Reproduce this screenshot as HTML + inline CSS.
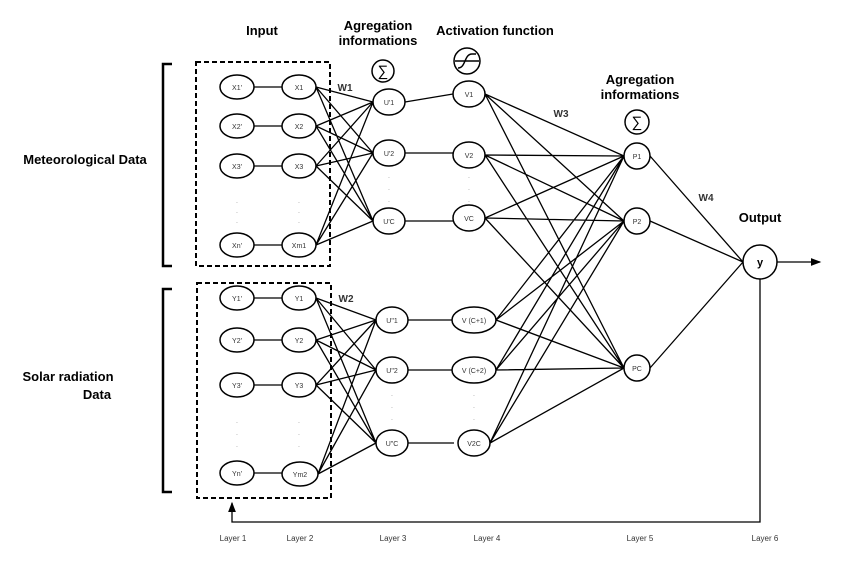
<!DOCTYPE html>
<html><head><meta charset="utf-8"><style>
body{margin:0;background:#fff}
svg{display:block}
text{font-family:"Liberation Sans",sans-serif}
.t{font-weight:bold;font-size:13px}
.n{font-size:7px;fill:#333}
.l{font-size:8px;fill:#333}
</style></head><body>
<svg width="850" height="565" viewBox="0 0 850 565" xmlns="http://www.w3.org/2000/svg">
<defs><marker id="a" markerWidth="8" markerHeight="8" refX="7" refY="4" orient="auto"><path d="M0,1 L8,4 L0,7z" fill="#000"/></marker></defs>
<g stroke="#000" stroke-width="1.3" fill="none">
<path d="M254,87H282M254,126H282M254,166H282M254,245H282"/>
<path d="M254,298H282M254,340H282M254,385H282M254,473H282"/>
<path d="M316,87L373,102M316,87L373,153M316,87L373,221
M316,126L373,102M316,126L373,153M316,126L373,221
M316,166L373,102M316,166L373,153M316,166L373,221
M316,245L373,102M316,245L373,153M316,245L373,221"/>
<path d="M316,298L376,320M316,298L376,370M316,298L376,443
M316,340L376,320M316,340L376,370M316,340L376,443
M316,385L376,320M316,385L376,370M316,385L376,443
M318,474L376,320M318,474L376,370M318,474L376,443"/>
<path d="M405,102L453,94M405,153H453M405,221H453"/>
<path d="M408,320H452M408,370H452M408,443H454"/>
<path d="M485,94L624,156M485,94L624,221M485,94L624,368
M485,155L624,156M485,155L624,221M485,155L624,368
M485,218L624,156M485,218L624,221M485,218L624,368
M496,320L624,156M496,320L624,221M496,320L624,368
M496,370L624,156M496,370L624,221M496,370L624,368
M490,443L624,156M490,443L624,221M490,443L624,368"/>
<path d="M650,156L743,262M650,221L743,262M650,368L743,262"/>
<path d="M777,262H820" marker-end="url(#a)"/>
<path d="M760,279V522H232V503" marker-end="url(#a)"/>
<rect x="196" y="62" width="134" height="204" stroke-dasharray="5,3" stroke-width="2"/>
<rect x="197" y="283" width="134" height="215" stroke-dasharray="5,3" stroke-width="2"/>
<path d="M172,64H163V266H172M172,289H163V492H172" stroke-width="2.5"/>
</g>
<g stroke="#000" stroke-width="1.5" fill="#fff">
<ellipse cx="237" cy="87" rx="17" ry="12"/><ellipse cx="237" cy="126" rx="17" ry="12"/><ellipse cx="237" cy="166" rx="17" ry="12"/><ellipse cx="237" cy="245" rx="17" ry="12"/>
<ellipse cx="299" cy="87" rx="17" ry="12"/><ellipse cx="299" cy="126" rx="17" ry="12"/><ellipse cx="299" cy="166" rx="17" ry="12"/><ellipse cx="299" cy="245" rx="17" ry="12"/>
<ellipse cx="237" cy="298" rx="17" ry="12"/><ellipse cx="237" cy="340" rx="17" ry="12"/><ellipse cx="237" cy="385" rx="17" ry="12"/><ellipse cx="237" cy="473" rx="17" ry="12"/>
<ellipse cx="299" cy="298" rx="17" ry="12"/><ellipse cx="299" cy="340" rx="17" ry="12"/><ellipse cx="299" cy="385" rx="17" ry="12"/><ellipse cx="300" cy="474" rx="18" ry="12"/>
<ellipse cx="389" cy="102" rx="16" ry="13"/><ellipse cx="389" cy="153" rx="16" ry="13"/><ellipse cx="389" cy="221" rx="16" ry="13"/>
<ellipse cx="392" cy="320" rx="16" ry="13"/><ellipse cx="392" cy="370" rx="16" ry="13"/><ellipse cx="392" cy="443" rx="16" ry="13"/>
<ellipse cx="469" cy="94" rx="16" ry="13"/><ellipse cx="469" cy="155" rx="16" ry="13"/><ellipse cx="469" cy="218" rx="16" ry="13"/>
<ellipse cx="474" cy="320" rx="22" ry="13"/><ellipse cx="474" cy="370" rx="22" ry="13"/><ellipse cx="474" cy="443" rx="16" ry="13"/>
<circle cx="637" cy="156" r="13"/><circle cx="637" cy="221" r="13"/><circle cx="637" cy="368" r="13"/>
<circle cx="760" cy="262" r="17"/>
<circle cx="383" cy="71" r="11"/><circle cx="637" cy="122" r="12"/><circle cx="467" cy="61" r="13"/>
</g>
<path d="M455,61H479M458,68C466,68 464,54 472,54H476" stroke="#000" stroke-width="1.5" fill="none"/>
<text x="383" y="76" font-size="15" text-anchor="middle">∑</text>
<text x="637" y="127" font-size="15" text-anchor="middle">∑</text>
<g class="n" text-anchor="middle">
<text x="237" y="90">X1'</text><text x="237" y="129">X2'</text><text x="237" y="169">X3'</text><text x="237" y="248">Xn'</text>
<text x="299" y="90">X1</text><text x="299" y="129">X2</text><text x="299" y="169">X3</text><text x="299" y="248">Xm1</text>
<text x="237" y="301">Y1'</text><text x="237" y="343">Y2'</text><text x="237" y="388">Y3'</text><text x="237" y="476">Yn'</text>
<text x="299" y="301">Y1</text><text x="299" y="343">Y2</text><text x="299" y="388">Y3</text><text x="300" y="477">Ym2</text>
<text x="389" y="105">U'1</text><text x="389" y="156">U'2</text><text x="389" y="224">U'C</text>
<text x="392" y="323">U"1</text><text x="392" y="373">U"2</text><text x="392" y="446">U"C</text>
<text x="469" y="97">V1</text><text x="469" y="158">V2</text><text x="469" y="221">VC</text>
<text x="474" y="323">V (C+1)</text><text x="474" y="373">V (C+2)</text><text x="474" y="446">V2C</text>
<text x="637" y="159">P1</text><text x="637" y="224">P2</text><text x="637" y="371">PC</text>
</g>
<text x="760" y="266" font-size="11" font-weight="bold" text-anchor="middle">y</text>
<g fill="#aaa" font-size="8" text-anchor="middle">
<text x="237" y="205">·</text><text x="237" y="215">·</text><text x="237" y="225">·</text>
<text x="299" y="205">·</text><text x="299" y="215">·</text><text x="299" y="225">·</text>
<text x="237" y="425">·</text><text x="237" y="437">·</text><text x="237" y="449">·</text>
<text x="299" y="425">·</text><text x="299" y="437">·</text><text x="299" y="449">·</text>
<text x="389" y="180">·</text><text x="389" y="192">·</text><text x="389" y="204">·</text>
<text x="469" y="180">·</text><text x="469" y="192">·</text><text x="469" y="204">·</text>
<text x="392" y="398">·</text><text x="392" y="410">·</text><text x="392" y="422">·</text>
<text x="474" y="398">·</text><text x="474" y="410">·</text><text x="474" y="422">·</text>
</g>
<g class="t" text-anchor="middle">
<text x="262" y="35">Input</text>
<text x="378" y="30">Agregation</text><text x="378" y="45">informations</text>
<text x="495" y="35">Activation function</text>
<text x="640" y="84">Agregation</text><text x="640" y="99">informations</text>
<text x="760" y="222">Output</text>
<text x="85" y="164">Meteorological Data</text>
<text x="68" y="381">Solar radiation</text>
<text x="97" y="399">Data</text>
</g>
<g font-size="10" font-weight="bold" fill="#333" text-anchor="middle">
<text x="345" y="91">W1</text><text x="346" y="302">W2</text><text x="561" y="117">W3</text><text x="706" y="201">W4</text>
</g>
<g class="l" text-anchor="middle">
<text x="233" y="541">Layer 1</text><text x="300" y="541">Layer 2</text><text x="393" y="541">Layer 3</text><text x="487" y="541">Layer 4</text><text x="640" y="541">Layer 5</text><text x="765" y="541">Layer 6</text>
</g>
</svg>
</body></html>
